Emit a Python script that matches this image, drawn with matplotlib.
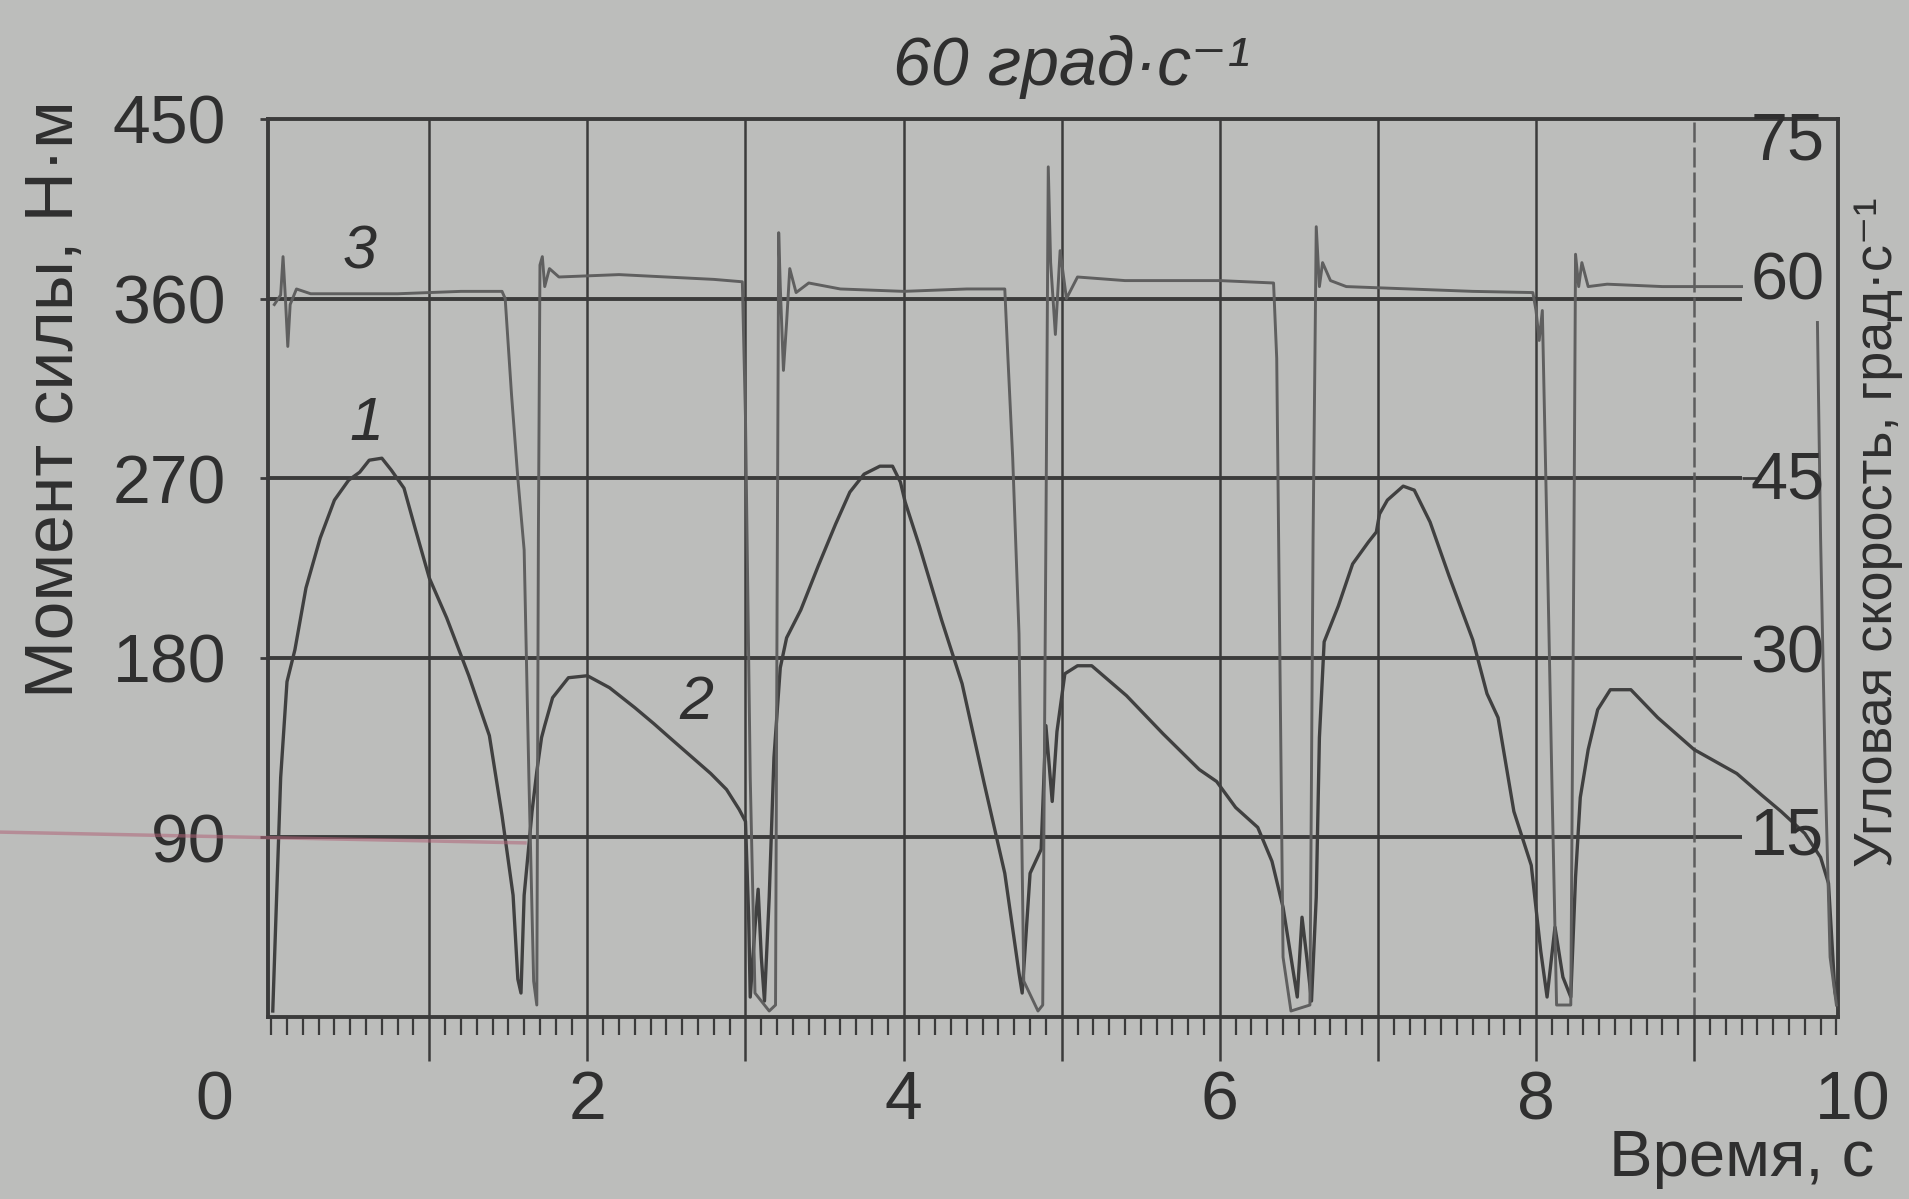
import numpy as np
import matplotlib
matplotlib.use("Agg")
import matplotlib.pyplot as plt
from matplotlib.lines import Line2D
from matplotlib.ticker import MultipleLocator, FixedLocator
from matplotlib.transforms import blended_transform_factory

# ---------------- data ----------------
# torque trace (curves 1 = extension humps, 2 = flexion humps), N·m
torque_time = [0.01, 0.03, 0.06, 0.10, 0.15, 0.22, 0.31, 0.40, 0.49, 0.56, 0.62, 0.70,
               0.76, 0.84, 0.91, 1.00, 1.11, 1.25, 1.38, 1.46, 1.53, 1.56, 1.58, 1.60,
               1.65, 1.68, 1.71, 1.73, 1.78, 1.88, 2.00, 2.14, 2.30, 2.42, 2.52,
               2.65, 2.78, 2.88, 2.96, 3.00, 3.02, 3.03, 3.06, 3.08, 3.10, 3.12, 3.15,
               3.18, 3.22, 3.26, 3.35, 3.46, 3.57, 3.66, 3.75, 3.85, 3.93, 3.98, 4.01,
               4.10, 4.24, 4.37, 4.51, 4.64, 4.73, 4.75, 4.80, 4.87, 4.90, 4.94, 4.97,
               5.02, 5.10, 5.19, 5.41, 5.64, 5.87, 5.98, 6.10, 6.24, 6.33, 6.40, 6.46, 6.49,
               6.52, 6.55, 6.58, 6.61, 6.63, 6.66, 6.75, 6.84, 6.94, 6.99, 7.01, 7.06,
               7.16, 7.23, 7.33, 7.45, 7.60, 7.69, 7.76, 7.86, 7.97, 8.03, 8.07, 8.12,
               8.17, 8.22, 8.25, 8.28, 8.33, 8.39, 8.47, 8.60, 8.77, 9.00,
               9.27, 9.43, 9.55, 9.70, 9.80, 9.85, 9.89, 9.91]
torque_nm = [3, 50, 120, 168, 184, 215, 240, 259, 269, 273, 279, 280,
             274, 265, 245, 220, 200, 171, 141, 101, 61, 19, 12, 61,
             103, 123, 140, 146, 160, 170, 171, 165, 155, 147, 140,
             131, 122, 114, 104, 98, 50, 10, 45, 64, 30, 8, 60,
             130, 175, 190, 204, 226, 247, 263, 272, 276, 276, 268, 258,
             236, 199, 167, 117, 72, 22, 12, 72, 84, 146, 108, 143,
             172, 176, 176, 161, 142, 124, 118, 105, 95, 78, 55, 25, 10,
             50, 30, 8, 60, 140, 188, 206, 227, 238, 243, 252, 259,
             266, 264, 248, 221, 189, 162, 150, 103, 76, 33, 10, 45,
             20, 10, 70, 110, 134, 154, 164, 164, 150, 134,
             122, 111, 103, 92, 80, 67, 13, 5]

# angular velocity trace (curve 3), deg/s ; NaN = gap in the trace
velocity_time = [0.02, 0.06, 0.075, 0.09, 0.105, 0.12, 0.16, 0.25, 0.80, 1.20, 1.46,
                 1.48, 1.52, 1.56, 1.60, 1.63, 1.66, 1.68, 1.69, 1.70, 1.715, 1.73, 1.76,
                 1.82, 2.20, 2.80, 2.98,
                 3.00, 3.03, 3.06, 3.15, 3.19, 3.20, 3.21, 3.22, 3.24, 3.26, 3.28, 3.32,
                 3.40, 3.60, 4.00, 4.40, 4.64,
                 4.66, 4.69, 4.73, 4.76, 4.85, 4.88, 4.90, 4.915, 4.93, 4.96, 4.99, 5.03,
                 5.10, 5.40, 6.00, 6.34,
                 6.36, 6.38, 6.40, 6.45, 6.57, 6.59, 6.61, 6.63, 6.65, 6.70, 6.80, 7.20,
                 7.60, 7.98,
                 8.00, 8.02, 8.04, 8.07, 8.10, 8.13, 8.22, 8.24, 8.25, 8.27, 8.29, 8.33,
                 8.45, 8.80, 9.30,
                 9.31,
                 9.78, 9.80, 9.83, 9.86, 9.90]
velocity_deg = [59.5, 60.3, 63.5, 60.0, 56.0, 59.5, 60.8, 60.4, 60.4, 60.6, 60.6,
                60.0, 52.0, 45.0, 39.0, 20.0, 3.0, 1.0, 40.0, 62.8, 63.5, 61.0, 62.5,
                61.8, 62.0, 61.6, 61.4,
                50.0, 20.0, 2.0, 0.5, 1.0, 35.0, 65.5, 61.0, 54.0, 58.0, 62.5, 60.5,
                61.3, 60.8, 60.6, 60.8, 60.8,
                55.0, 46.7, 32.0, 3.0, 0.5, 1.0, 40.0, 71.0, 63.0, 57.0, 64.0, 60.0,
                61.8, 61.5, 61.5, 61.3,
                55.0, 30.0, 5.0, 0.5, 1.0, 40.0, 66.0, 61.0, 63.0, 61.5, 61.0, 60.8,
                60.6, 60.5,
                59.0, 56.5, 59.0, 40.0, 20.0, 1.0, 1.0, 40.0, 63.7, 61.0, 63.0, 61.0,
                61.2, 61.0, 61.0,
                np.nan,
                58.0, 40.0, 20.0, 5.0, 1.0]

left_tick_values = [90, 180, 270, 360, 450]
left_tick_labels = ["90", "180", "270", "360", "450"]
right_tick_labels = ["15", "30", "45", "60", "75"]
right_label_pos = [15.0, 30.2, 44.7, 61.3, 73.0]
x_tick_values = [0, 2, 4, 6, 8, 10]
x_tick_labels = ["0", "2", "4", "6", "8", "10"]
curve_labels = ["1", "2", "3"]
curve_label_t = [0.60, 2.69, 0.56]
curve_label_y = [297, 157, 383]

# ---------------- style ----------------
BG = "#bcbdbb"
INK = "#3b3b3b"
TXT = "#2f2f2f"
FONT = ["Liberation Sans", "DejaVu Sans"]
plt.rcParams["font.family"] = FONT

fig = plt.figure(figsize=(19.09, 11.99), dpi=100, facecolor=BG)
ax = fig.add_axes([0.1404, 0.1518, 0.8224, 0.749])
ax.set_facecolor(BG)
ax.set_xlim(-0.02, 9.91)
ax.set_ylim(0, 450)

for s in ax.spines.values():
    s.set_color(INK)
    s.set_linewidth(2.8)

# x ticks: major every second (long), minor comb every 0.1 s
ax.xaxis.set_major_locator(FixedLocator(list(range(1, 10))))
ax.xaxis.set_minor_locator(MultipleLocator(0.1))
ax.tick_params(axis="x", which="major", direction="out", length=32, width=1.8,
               color=INK, labelbottom=False)
ax.tick_params(axis="x", which="minor", direction="out", length=13, width=1.6,
               color=INK)
ax.grid(axis="x", which="major", color=INK, lw=1.8)
gl = ax.get_xgridlines()
if len(gl) >= 9:
    gl[8].set_color("#5d5d5d")
    gl[8].set_linestyle((0, (8, 2)))

# y ticks left
ax.set_yticks(left_tick_values)
ax.set_yticklabels(left_tick_labels)
ax.tick_params(axis="y", which="major", direction="out", length=6, width=2.0,
               color=INK, labelsize=49, labelcolor=TXT, pad=24)

# horizontal grid lines (stop before the inner right-axis labels)
ax.hlines(left_tick_values[:-1], -0.02, 9.30, color=INK, lw=2.8, zorder=1)
ax.hlines([270], 9.30, 9.42, color=INK, lw=2.0, zorder=1)

# torque trace
ax.plot(torque_time, torque_nm, color="#404040", lw=2.4, zorder=3)

# velocity on a second scale (0-75 deg/s)
ax2 = ax.twinx()
ax2.set_ylim(0, 75)
ax2.set_xlim(ax.get_xlim())
for s in ax2.spines.values():
    s.set_visible(False)
ax2.tick_params(axis="y", which="both", right=False, labelright=False)
ax2.plot(velocity_time, velocity_deg, color="#5f5f5f", lw=2.1, zorder=3)

# inner right-axis labels
for lab, v in zip(right_tick_labels, right_label_pos):
    ax2.text(9.59, v, lab, ha="center", va="center", fontsize=48, color=TXT)

# curve numbers
for lab, t, y in zip(curve_labels, curve_label_t, curve_label_y):
    ax.text(t, y, lab, ha="center", va="center", fontsize=44, style="italic",
            color=TXT, zorder=5)

# bottom tick labels (placed at their time values, below the comb)
tr = blended_transform_factory(ax.transData, ax.transAxes)
for lab, t in zip(x_tick_labels, x_tick_values):
    xt = t if t != 0 else -0.36
    ax.text(xt, -0.094, lab, transform=tr, ha="center", va="center",
            fontsize=49, color=TXT, clip_on=False)

# titles / axis labels
fig.text(0.561, 0.944, "60 град·с⁻¹", ha="center", va="center", fontsize=49,
         style="italic", color=TXT)
fig.text(0.029, 0.667, "Момент силы, Н·м", rotation=90, ha="center", va="center",
         fontsize=50, color=TXT)
fig.text(0.9835, 0.556, "Угловая скорость, град·с⁻¹", rotation=90, ha="center",
         va="center", fontsize=39, color=TXT)
fig.text(0.982, 0.033, "Время, с", ha="right", va="center", fontsize=47, color=TXT)

# faint pen mark across the left side (as in the scan)
fig.add_artist(Line2D([0.0, 0.275], [0.306, 0.297], transform=fig.transFigure,
                      color="#b06478", lw=2.5, alpha=0.55))

fig.savefig("out.png", dpi=100, facecolor=BG)
